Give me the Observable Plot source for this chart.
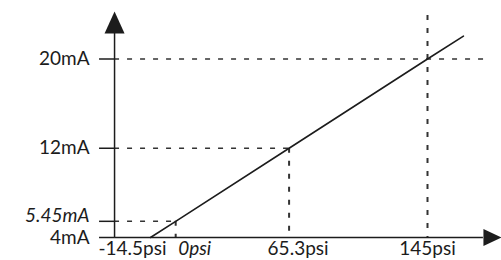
<!DOCTYPE html>
<html>
<head>
<meta charset="utf-8">
<script src="https://cdn.jsdelivr.net/npm/d3@7"></script>
<script src="https://cdn.jsdelivr.net/npm/@observablehq/plot@0.6"></script>
<style>
  html, body { margin: 0; padding: 0; background: #fff; }
  #chart svg { display: block; }
</style>
</head>
<body>
<div id="chart"></div>
<script>
// ---- data ----
const psiTicks = [-14.5, 0, 65.3, 145];
const psiLabels = ["-14.5psi", "0psi", "65.3psi", "145psi"];
const psiItalic = [false, true, false, false];

const maTicks = [4, 5.45, 12, 20];
const maLabels = ["4mA", "5.45mA", "12mA", "20mA"];
const maItalic = [false, true, false, false];

// transfer line (pressure -> current)
const linePsi = [-14.5, 0, 65.3, 145, 165.7];
const lineMa = [4, 5.45, 12, 20, 22.05];

// reference points with dashed guides
const guidePsi = [0, 65.3, 145];
const guideMa = [5.45, 12, 20];

// axis extents
const originPsi = -35.2;     // where the current axis stands
const axisEndPsi = 177.2;    // pressure axis arrow
const axisEndMa = 22.29;     // current axis arrow
const guideTopMa = 23.9;     // top of the 145psi guide
const guideRightPsi = 180.1; // right end of the 20mA guide

// ---- build ----
const lineData = linePsi.map((p, i) => ({psi: p, mA: lineMa[i]}));
const hGuides = guideMa.map((m, i) => ({mA: m, psiEnd: i === guideMa.length - 1 ? guideRightPsi : guidePsi[i]}));
const vGuides = guidePsi.map((p, i) => ({psi: p, maTop: i === guidePsi.length - 1 ? guideTopMa : guideMa[i]}));
const yLabelData = maTicks.map((m, i) => ({mA: m, label: maLabels[i], italic: maItalic[i]}));

const ink = "#1c1c1c";
const font = "Lato, 'Open Sans', sans-serif";
const fs = 19;

function headUp(w, h) {
  return {draw(ctx) { ctx.moveTo(0, -h); ctx.lineTo(w / 2, 0); ctx.lineTo(-w / 2, 0); ctx.closePath(); }};
}
function headRight(w, h) {
  return {draw(ctx) { ctx.moveTo(w, 0); ctx.lineTo(0, h / 2); ctx.lineTo(0, -h / 2); ctx.closePath(); }};
}

const xLabelShift = [-18, 19, 9, 0];

const xLabelMarks = psiTicks.map((v, i) => Plot.text([i], {
  x: j => psiTicks[j], y: () => 4, text: j => psiLabels[j],
  lineAnchor: "top", dy: 4, dx: xLabelShift[i], textAnchor: "middle",
  fontSize: fs, fontFamily: font, fill: ink,
  fontStyle: psiItalic[i] ? "italic" : "normal"
}));

const chart = Plot.plot({
  width: 501,
  height: 260,
  margin: 0,
  x: {domain: [-14.5, 145], range: [150, 427], axis: null},
  y: {domain: [4, 20], range: [237, 58.5], axis: null},
  style: {background: "#fff", fontFamily: font},
  marks: [
    // dashed guides
    Plot.ruleY(hGuides, {y: "mA", x1: () => originPsi, x2: "psiEnd", stroke: "#333", strokeWidth: 1.5, strokeDasharray: "5,8"}),
    Plot.ruleX(vGuides, {x: "psi", y1: "maTop", y2: () => 4, stroke: "#333", strokeWidth: 2, strokeDasharray: "5,8"}),
    // y ticks
    Plot.ruleY(maTicks, {x1: () => originPsi, x2: () => originPsi, insetLeft: -15, stroke: ink, strokeWidth: 1.5}),
    // axes
    Plot.ruleX([originPsi], {y1: 4, y2: axisEndMa, stroke: ink, strokeWidth: 1.5}),
    Plot.ruleY([4], {x1: originPsi, x2: axisEndPsi, stroke: ink, strokeWidth: 1.5}),
    Plot.dot([0], {x: () => originPsi, y: () => axisEndMa, symbol: headUp(20, 22), fill: ink, stroke: "none"}),
    Plot.dot([0], {x: () => axisEndPsi, y: () => 4, symbol: headRight(18, 17), fill: ink, stroke: "none"}),
    // transfer line
    Plot.line(lineData, {x: "psi", y: "mA", stroke: ink, strokeWidth: 1.6}),
    // y labels
    Plot.text(yLabelData.filter(d => !d.italic), {x: () => originPsi, y: "mA", text: "label", textAnchor: "end", dx: -25, fontSize: fs, fontFamily: font, fill: ink}),
    Plot.text(yLabelData.filter(d => d.italic), {x: () => originPsi, y: "mA", text: "label", textAnchor: "end", dx: -25, dy: -5, fontSize: fs, fontFamily: font, fontStyle: "italic", fill: ink}),
    ...xLabelMarks
  ]
});
document.getElementById("chart").appendChild(chart);
</script>
</body>
</html>
